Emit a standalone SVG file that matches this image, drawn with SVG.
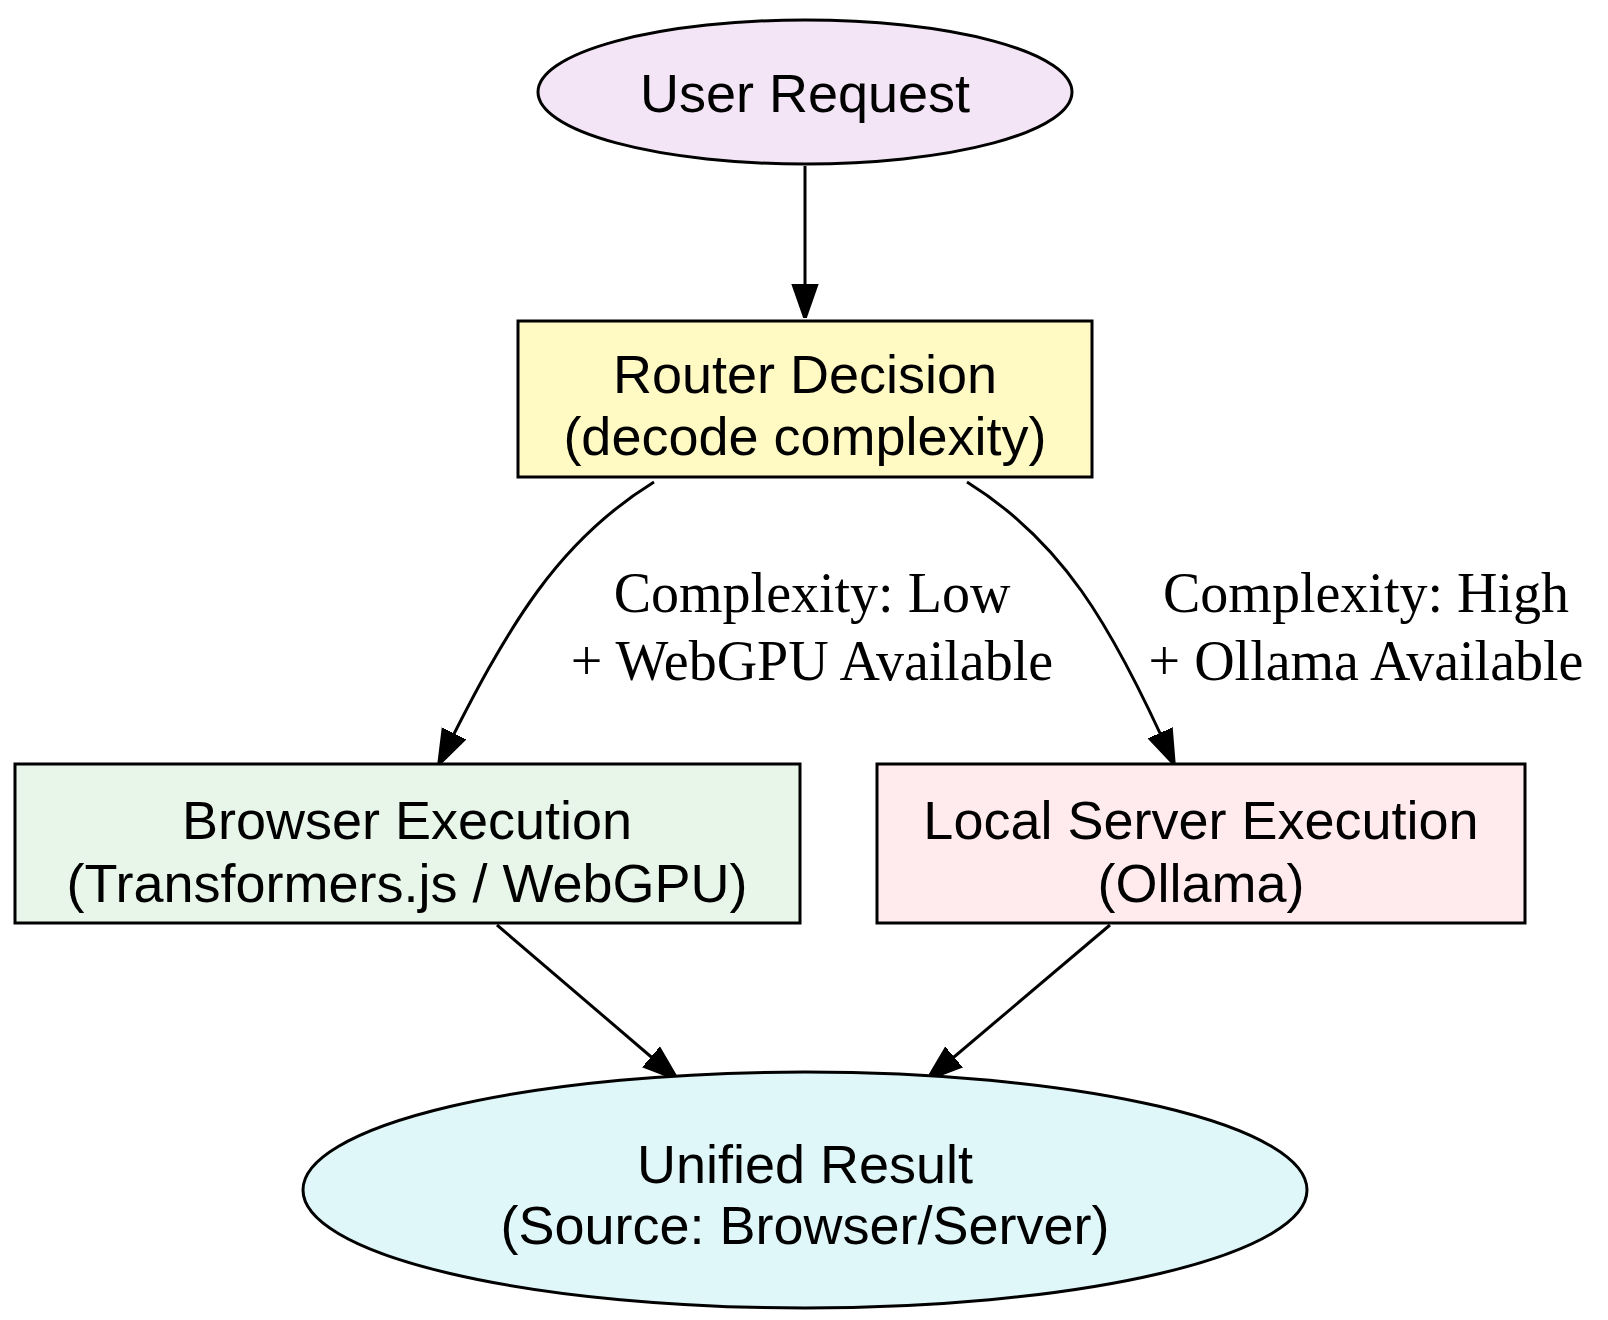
<svg xmlns="http://www.w3.org/2000/svg" width="1608" height="1320" viewBox="0 0 1608 1320">
<style>
.n{stroke:#000;stroke-width:3}
.t{font-family:"Liberation Sans",Arial,sans-serif;font-size:54px;text-anchor:middle;fill:#000}
.l{font-family:"Liberation Serif","Times New Roman",serif;font-size:56px;text-anchor:middle;fill:#000}
.e{fill:none;stroke:#000;stroke-width:3;marker-end:url(#b)}
</style>
<defs>
<marker id="b" viewBox="0 0 10 10" refX="10" refY="5" markerWidth="34" markerHeight="34" markerUnits="userSpaceOnUse" orient="auto"><path d="M0,1.5 L10,5 L0,8.5 z" fill="#000" stroke="#000"/></marker></defs>
<rect width="1608" height="1320" fill="#fff"/>
<g id="connectors">
<path class="e" d="M805,166 L805,318"/>
<path class="e" d="M654,482 C560,540 510,620 439,764"/>
<path class="e" d="M967,482 C1060,540 1110,620 1174,764"/>
<path class="e" d="M497,925 L677,1079"/>
<path class="e" d="M1110,925 L928,1079"/>
<text class="l" x="812" y="612">Complexity: Low</text>
<text class="l" x="812" y="680">+ WebGPU Available</text>
<text class="l" x="1366" y="612">Complexity: High</text>
<text class="l" x="1366" y="680">+ Ollama Available</text>
</g>
<g id="user"><ellipse class="n" cx="805" cy="92" rx="267" ry="72" fill="#f3e5f5"/><text class="t" x="805" y="112">User Request</text></g>
<g id="router"><rect class="n" x="518" y="321" width="574" height="156" fill="#fff9c4"/><text class="t" x="805" y="393">Router Decision</text><text class="t" x="805" y="455">(decode complexity)</text></g>
<g id="browser"><rect class="n" x="15" y="764" width="785" height="159" fill="#e8f5e9"/><text class="t" x="407" y="839">Browser Execution</text><text class="t" x="407" y="902">(Transformers.js / WebGPU)</text></g>
<g id="server"><rect class="n" x="877" y="764" width="648" height="159" fill="#ffebee"/><text class="t" x="1201" y="839">Local Server Execution</text><text class="t" x="1201" y="902">(Ollama)</text></g>
<g id="result"><ellipse class="n" cx="805" cy="1190" rx="502" ry="118" fill="#e0f7fa"/><text class="t" x="805" y="1183">Unified Result</text><text class="t" x="805" y="1244">(Source: Browser/Server)</text></g>
</svg>
